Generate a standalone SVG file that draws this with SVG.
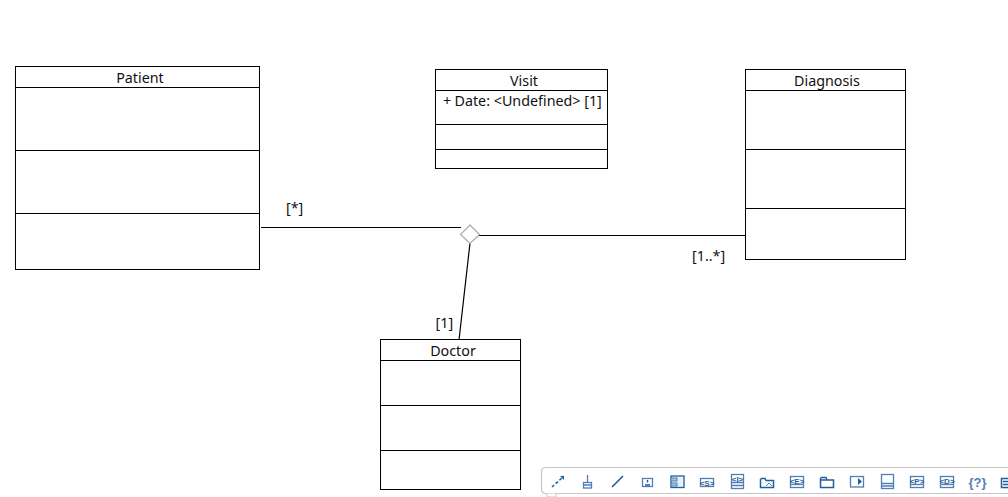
<svg xmlns="http://www.w3.org/2000/svg" width="1008" height="497" viewBox="0 0 1008 497">
<style>
.b{fill:#fff;stroke:#000;stroke-width:1;shape-rendering:crispEdges}
.s{stroke:#000;stroke-width:1;fill:none;shape-rendering:crispEdges}
.c{stroke:#000;stroke-width:1.2;fill:none}
text{font-family:"Noto Sans","Open Sans",sans-serif;font-size:14.3px;fill:#111}
.m{text-anchor:middle}
.i{fill:none;stroke:#4f7fb3;stroke-width:1.3}
.d{fill:none;stroke:#1f5f9f;stroke-width:1.5}
.t{font-family:"Liberation Sans",sans-serif;font-size:8px;font-weight:bold;fill:#2d5f96;text-anchor:middle}
</style>
<rect width="1008" height="497" fill="#fff"/>
<g id="connectors">
<path class="c" d="M261 227.500H461M478 235.500H746M470 243L459 340"/>
<polygon points="470,225 479.500,234.500 470,243.500 460.500,234.500" fill="#fff" stroke="#aaa" stroke-width="1.2"/>
<text x="286" y="213">[*]</text>
<text x="692" y="261">[1..*]</text>
<text x="435.500" y="328">[1]</text>
</g>
<g id="patient">
<rect class="b" x="15.500" y="66.500" width="244" height="203"/>
<path class="s" d="M15.500 87.500H259.500M15.500 150.500H259.500M15.500 213.500H259.500"/>
<text class="m" x="140" y="82.500">Patient</text>
</g>
<g id="visit">
<rect class="b" x="435.500" y="69.500" width="172" height="99"/>
<path class="s" d="M435.500 90.500H607.500M435.500 124.500H607.500M435.500 149.500H607.500"/>
<text class="m" x="524" y="85.500">Visit</text>
<text x="443" y="106">+</text>
<text x="454.500" y="106">Date: &lt;Undefined&gt; [1]</text>
</g>
<g id="diagnosis">
<rect class="b" x="745.500" y="69.500" width="160" height="190"/>
<path class="s" d="M745.500 90.500H905.500M745.500 149.500H905.500M745.500 208.500H905.500"/>
<text class="m" x="827" y="85.500">Diagnosis</text>
</g>
<g id="doctor">
<rect class="b" x="380.500" y="339.500" width="140" height="150"/>
<path class="s" d="M380.500 360.500H520.500M380.500 405.500H520.500M380.500 450.500H520.500"/>
<text class="m" x="453" y="355.500">Doctor</text>
</g>
<g id="toolbar">
<path d="M1008 467.500H546Q541.500 467.500 541.500 472V489Q541.500 493.500 546 493.500H1008" fill="#fff" stroke="#c4c4c4" stroke-width="1.2"/>
<path d="M547 493.500V497H556V493.500" fill="#fff" stroke="#c4c4c4"/>
<path d="M552 487L563 477" stroke="#1f5f9f" stroke-width="1.6" stroke-dasharray="3 2" fill="none"/><path d="M560 476H564V480Z" fill="#1f5f9f"/>
<path class="i" d="M587.500 475V482M583.500 485H591.500"/><rect class="i" x="583.500" y="482.500" width="8" height="5.500" fill="#dbe6f1"/>
<path d="M612 487L623 476" stroke="#1f5f9f" stroke-width="1.6" fill="none"/>
<rect class="i" x="642.500" y="478.500" width="10" height="8"/><path class="d" d="M647.500 480V482.500M645 485H650" stroke-width="1"/>
<rect x="671" y="476" width="13" height="11.500" fill="#e9f1f8" stroke="#1f5f9f" stroke-width="1.3"/><rect x="671" y="478" width="6" height="3" fill="#a9c4de" stroke="#4f7fb3"/><rect x="671" y="483" width="6" height="3" fill="#a9c4de" stroke="#4f7fb3"/>
<rect class="i" x="700.500" y="478.500" width="13" height="8"/><text class="t" x="707" y="485.500">&lt;S&gt;</text>
<rect class="i" x="731.500" y="474.500" width="12" height="14"/><path class="i" d="M731.500 482.500H743.500M731.500 485.500H743.500"/><text class="t" x="737.500" y="481.500">&lt;I&gt;</text>
<path class="d" d="M760.500 479V487.500H773.500V480.500H766L765 478.500H760.500"/><path d="M766 486L769 483L772 486" fill="none" stroke="#4f7fb3"/>
<rect class="i" x="790.500" y="476.500" width="13" height="11"/><path class="i" d="M790.500 484.500H803.500"/><text class="t" x="797" y="483.500">&lt;E&gt;</text>
<path class="d" d="M820.500 478V487.500H833.500V480H827L826 477.500H820.500M820.500 480H827"/>
<rect class="i" x="850.500" y="476.500" width="13" height="10.500"/><path d="M858 478V485L862 481.500Z" fill="#1f5f9f"/>
<rect class="i" x="881.500" y="474.500" width="12" height="14" fill="#eef3f8"/><path class="i" d="M881.500 483.500H893.500M881.500 486H893.500"/>
<rect class="i" x="910.500" y="476.500" width="13" height="11"/><path class="i" d="M910.500 484.500H923.500"/><text class="t" x="917" y="483.500">&lt;P&gt;</text>
<rect class="i" x="940.500" y="476.500" width="13" height="11"/><path class="i" d="M940.500 484.500H953.500"/><text class="t" x="947" y="483.500">&lt;D&gt;</text>
<text x="977.500" y="486.500" text-anchor="middle" style="font-size:13px;font-weight:bold;fill:#4f7fb3;font-family:'Liberation Sans',sans-serif">{?}</text>
<path class="d" d="M1008 478.500H1001.500V487.500H1008M1003 481.500H1008M1003 484.500H1008" stroke-width="1.2"/>
</g>
</svg>
